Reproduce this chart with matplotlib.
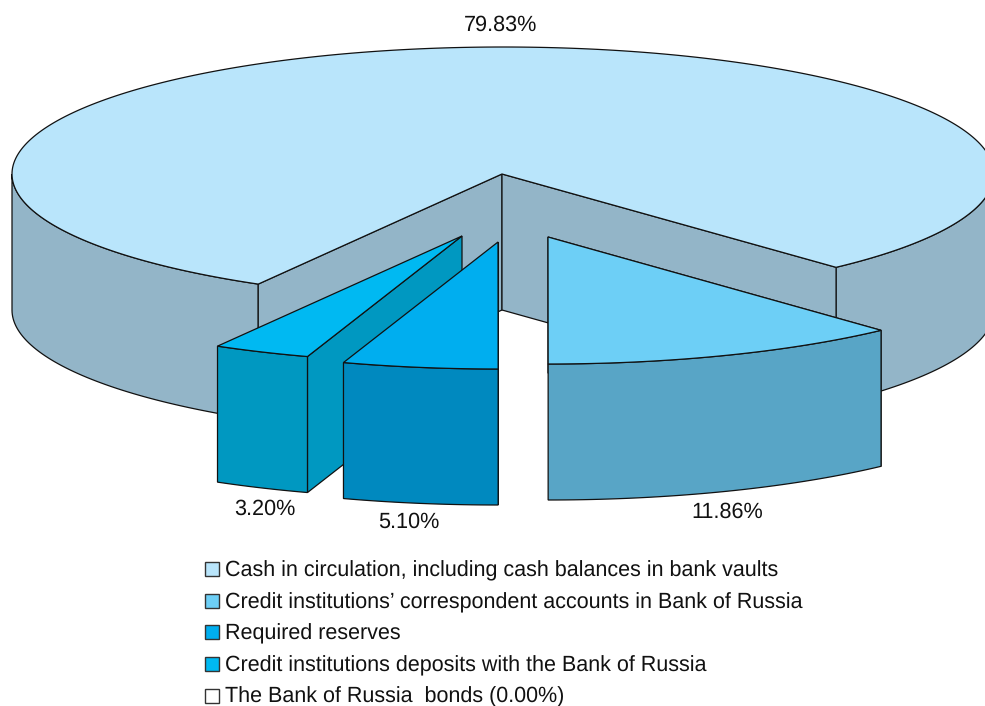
import numpy as np
import matplotlib
matplotlib.use('Agg')
import matplotlib.pyplot as plt
from matplotlib.patches import Polygon, Rectangle

# data
labels = ['Cash in circulation, including cash balances in bank vaults',
          'Credit institutions\u2019 correspondent accounts in Bank of Russia',
          'Required reserves',
          'Credit institutions deposits with the Bank of Russia',
          'The Bank of Russia  bonds (0.00%)']
shares = [79.83, 11.86, 5.10, 3.20, 0.00]

# colours per slice
top_colors = ['#b9e5fb', '#6dcff6', '#00aeef', '#00b9f2', '#ffffff']
side_colors = ['#93b5c8', '#58a5c6', '#0089bf', '#0098c1', '#ffffff']

# layout in pixels
W, H = 985, 706
CX, CY = 503, 174
APEX_X = 502
RX, RY = 491, 127
DEPTH = 136
START = 209.9
explode = {1: (45, 63), 2: (-5, 68), 3: (-41, 62)}
value_pos = {0: (501, 25), 1: (727, 512.5), 2: (409, 522.5), 3: (265, 509)}
legend_y = [570.5, 602.5, 633.5, 665.5, 697]

plt.rcParams['font.family'] = ['Liberation Sans', 'DejaVu Sans']
plt.rcParams['text.hinting'] = 'no_hinting'


def rim(a1, a2, dx=0, dy=0):
    """Points on the top ellipse, angles clockwise from the back of the pie."""
    n = max(int(abs(a2 - a1)), 2) + 1
    t = np.radians(np.linspace(a1, a2, n))
    return np.column_stack([CX + dx + RX * np.sin(t), CY + dy - RY * np.cos(t)])


def wall(pts):
    """Extrude a top edge downward by the pie depth."""
    low = pts[::-1] + [0, DEPTH]
    return np.vstack([pts, low])


def add(ax, pts, color, lw=0.9):
    ax.add_patch(Polygon(pts, closed=True, facecolor=color, edgecolor='#111111',
                         linewidth=lw, joinstyle='miter'))


fig = plt.figure(figsize=(W / 100, H / 100), dpi=100)
ax = fig.add_axes([0, 0, 1, 1])
ax.set_xlim(0, W)
ax.set_ylim(H, 0)
ax.axis('off')

# slice angles from the shares
angles = [START]
for s in shares[:4]:
    angles.append(angles[-1] + s * 3.6)
spans = [(angles[i], angles[i + 1]) for i in range(4)]

# main slice with the cut out wedge
a1, a2 = spans[0]
centre = np.array([[APEX_X, CY]])
add(ax, wall(rim(a1, 270)), side_colors[0])
add(ax, wall(rim(450, a2)), side_colors[0])
add(ax, wall(np.vstack([centre, rim(a1, a1)[:1]])), side_colors[0])
add(ax, wall(np.vstack([centre, rim(a2, a2)[:1]])), side_colors[0])
add(ax, np.vstack([centre, rim(a1, a2)]), top_colors[0])

# exploded slices, back to front
for i in [3, 2, 1]:
    a1, a2 = spans[i]
    dx, dy = explode[i]
    apex = np.array([[CX + dx, CY + dy]])
    arc = rim(a1, a2, dx, dy)
    if a1 > 180:
        add(ax, wall(np.vstack([apex, arc[:1]])), side_colors[i])
    if a2 < 180:
        add(ax, wall(np.vstack([apex, arc[-1:]])), side_colors[i])
    add(ax, wall(arc), side_colors[i])
    add(ax, np.vstack([apex, arc]), top_colors[i])

# value labels
for i, (x, y) in value_pos.items():
    ax.text(x, y, f'{shares[i]:.2f}%', ha='center', va='center', fontsize=15.6, color='#111111')

# legend
for y, lab, col in zip(legend_y, labels, top_colors):
    ax.add_patch(Rectangle((205, y - 8.5), 14, 14, facecolor=col, edgecolor='#333333', linewidth=1.0))
    ax.text(225, y, lab, ha='left', va='center', fontsize=15.52, color='#111111')

fig.savefig('out.png', dpi=100)
